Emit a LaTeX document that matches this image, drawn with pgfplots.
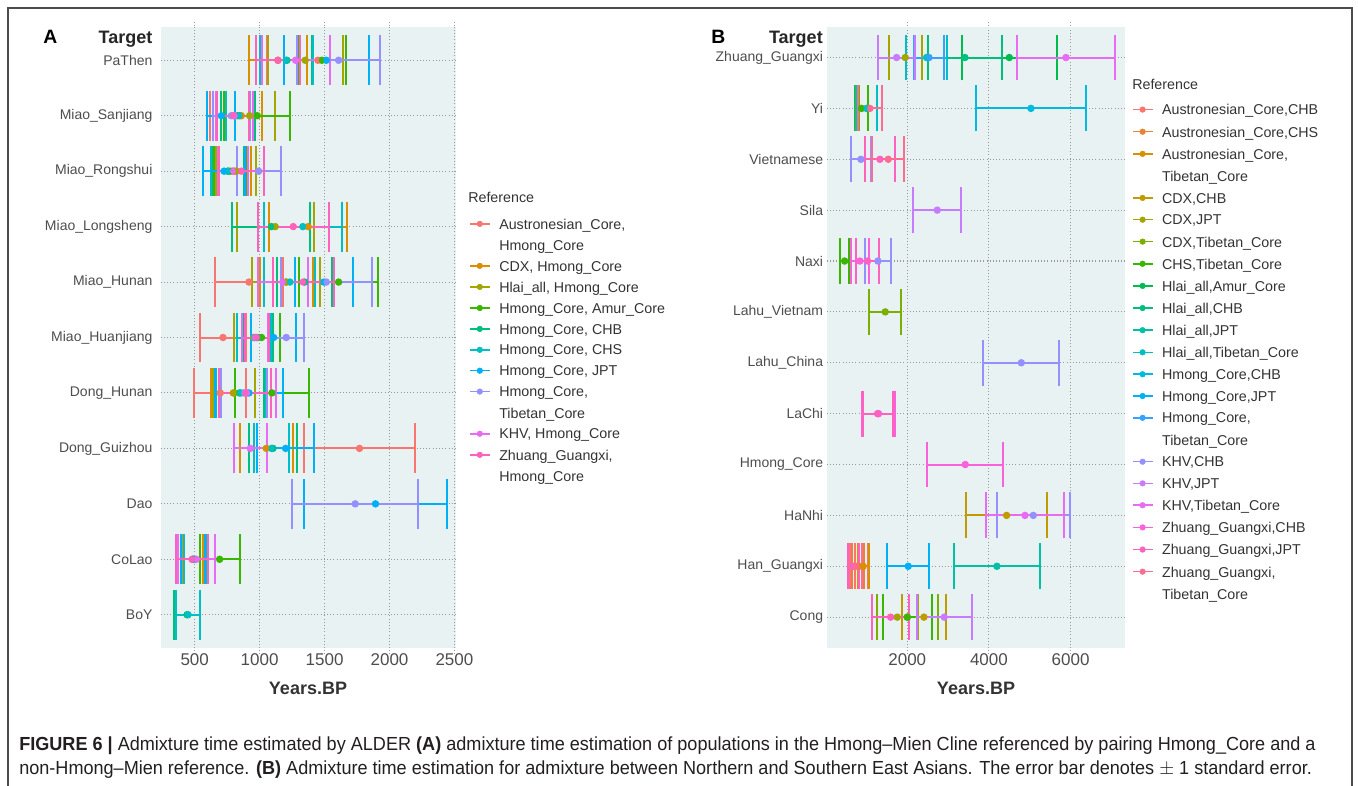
\documentclass[border=0pt]{standalone}
\usepackage{fontspec}
\setmainfont{Liberation Sans}
\newfontfamily\capfont[FakeStretch=0.955]{Liberation Sans}
\usepackage{pgfplots}
\pgfplotsset{compat=1.18}
\usepackage{pgfplotstable}

\definecolor{bg}{HTML}{E9F2F3}
\definecolor{tickc}{HTML}{4D4D4D}
\definecolor{lgc}{HTML}{333333}
\definecolor{capc}{HTML}{231F20}
% panel A palette
\definecolor{ca1}{HTML}{F8766D}\definecolor{ca2}{HTML}{D89000}
\definecolor{ca3}{HTML}{A3A500}\definecolor{ca4}{HTML}{39B600}
\definecolor{ca5}{HTML}{00BF7D}\definecolor{ca6}{HTML}{00BFC4}
\definecolor{ca7}{HTML}{00B0F6}\definecolor{ca8}{HTML}{9590FF}
\definecolor{ca9}{HTML}{E76BF3}\definecolor{ca10}{HTML}{FF62BC}
% panel B palette
\definecolor{cb1}{HTML}{F8766D}\definecolor{cb2}{HTML}{EA8331}
\definecolor{cb3}{HTML}{D89000}\definecolor{cb4}{HTML}{C09B00}
\definecolor{cb5}{HTML}{A3A500}\definecolor{cb6}{HTML}{7CAE00}
\definecolor{cb7}{HTML}{39B600}\definecolor{cb8}{HTML}{00BB4E}
\definecolor{cb9}{HTML}{00BF7D}\definecolor{cb10}{HTML}{00C1A3}
\definecolor{cb11}{HTML}{00BFC4}\definecolor{cb12}{HTML}{00BAE0}
\definecolor{cb13}{HTML}{00B0F6}\definecolor{cb14}{HTML}{35A2FF}
\definecolor{cb15}{HTML}{9590FF}\definecolor{cb16}{HTML}{C77CFF}
\definecolor{cb17}{HTML}{E76BF3}\definecolor{cb18}{HTML}{FA62DB}
\definecolor{cb19}{HTML}{FF62BC}\definecolor{cb20}{HTML}{FF6C91}

% ---------------- Panel A data (y: 11 PaThen ... 1 BoY) ----------------
\pgfplotstableread{
x y e
1449 11 392
815 10 200
808 9 128
918 7 264
718 6 175
697 5 199
1769 4 431
487 2 95
}\tAa
\pgfplotstableread{
x y e
1141 11 223
859 10 160
795 9 141
1374 8 299
1205 7 205
974 6 110
797 5 169
1051 4 205
485 2 80
}\tAb
\pgfplotstableread{
x y e
1351 11 290
923 10 192
821 9 154
1120 8 295
1203 7 259
954 6 150
803 5 163
}\tAc
\pgfplotstableread{
x y e
1479 11 187
982 10 254
774 9 123
1608 7 303
1015 6 144
1095 5 282
692 2 154
}\tAd
\pgfplotstableread{
x y e
1210 11 192
833 10 128
756 9 123
1090 8 300
1346 7 213
987 6 115
844 5 190
1103 4 182
441 1 103
}\tAe
\pgfplotstableread{
x y e
1205 11 205
846 10 103
756 9 133
1333 8 301
1233 7 197
959 6 131
856 5 190
1092 4 132
500 2 85
449 1 90
}\tAf
\pgfplotstableread{
x y e
1513 11 328
705 10 108
726 9 159
1495 7 223
1108 6 172
918 5 262
1200 4 218
1892 3 551
487 2 95
}\tAg
\pgfplotstableread{
x y e
1608 11 320
782 10 141
992 9 169
1513 7 351
1205 6 133
879 5 177
1736 3 487
}\tAh
\pgfplotstableread{
x y e
1277 11 262
808 10 141
795 9 115
1179 7 192
962 6 100
905 5 218
928 4 127
513 2 141
}\tAi
\pgfplotstableread{
x y e
1141 11 172
795 10 123
859 9 172
1259 8 273
1336 7 233
979 6 95
890 5 200
480 2 125
}\tAj

% ---------------- Panel B data (y: 12 Zhuang_Guangxi ... 1 Cong) ----------------
\pgfplotstableread{
x y e
882 2 163
}\tBa
\pgfplotstableread{
x y e
800 2 150
}\tBb
\pgfplotstableread{
x y e
922 2 140
}\tBc
\pgfplotstableread{
x y e
4433 3 988
2408 1 543
}\tBd
\pgfplotstableread{
x y e
1951 12 404
1755 1 506
}\tBe
\pgfplotstableread{
x y e
1029 11 220
1461 7 388
2004 1 755
}\tBf
\pgfplotstableread{
x y e
882 11 163
467 8 102
2000 1 600
}\tBg
\pgfplotstableread{
x y e
4498 12 1159
}\tBh
\pgfplotstableread{
x y e
3412 12 898
}\tBi
\pgfplotstableread{
x y e
4196 2 1053
}\tBj
\pgfplotstableread{
x y e
2473 12 510
1000 11 250
}\tBk
\pgfplotstableread{
x y e
5028 11 1355
}\tBl
\pgfplotstableread{
x y e
2024 2 514
}\tBm
\pgfplotstableread{
x y e
2531 12 371
}\tBn
\pgfplotstableread{
x y e
865 10 245
1282 8 318
4792 6 935
5086 3 890
}\tBo
\pgfplotstableread{
x y e
1739 12 449
2735 9 592
2906 1 673
}\tBp
\pgfplotstableread{
x y e
5886 12 1200
4882 3 947
}\tBq
\pgfplotstableread{
x y e
841 8 229
1298 5 400
3420 4 927
}\tBr
\pgfplotstableread{
x y e
1331 10 376
1029 8 278
1273 5 367
678 2 135
1592 1 457
}\tBs
\pgfplotstableread{
x y e
1086 11 290
1535 10 388
743 2 155
}\tBt

\newcommand{\ph}{\vphantom{Hg\_,}}
\newcommand{\ebar}[3]{\addplot[forget plot, only marks, mark=none, color=#2, line width=1.5pt,
  error bars/.cd, x dir=both, x explicit, error mark=|,
  error bar style={line width=1.5pt, color=#2, solid},
  error mark options={mark size=#3, line width=1.5pt, color=#2, solid}]
  table[x=x,y=y,x error=e]{#1};}
\newcommand{\epts}[4]{\addplot[only marks, mark=*, color=#2, mark size=#3,
  mark options={fill=#2, draw=#2, line width=0.2pt}, lglyph]
  table[x=x,y=y]{#1};\addlegendentry{\ph#4}}
\newcommand{\more}[1]{\addlegendimage{empty legend}\addlegendentry{\ph#1}}

\pgfplotsset{
  lglyph/.style={legend image code/.code={%
      \draw[line width=1.2pt] (0pt,0.9pt) -- (15pt,0.9pt);
      \fill (7.5pt,0.9pt) circle (2.1pt);}},
  panel/.style={
    scale only axis,
    axis background/.style={fill=bg},
    axis line style={draw=none},
    xmajorgrids, ymajorgrids,
    grid style={gray!80, dotted, line width=0.8pt},
    major tick style={gray!80, dotted, line width=0.8pt},
    tick align=outside, major tick length=4pt,
    ytick style={draw=none},
    tick label style={inner sep=0pt},
    xticklabel style={font=\fontsize{12.75}{14}\selectfont, text=tickc},
    yticklabel style={font=\fontsize{10.5}{12}\selectfont, text=tickc},
    /pgf/number format/assume math mode=true,
    /pgf/number format/set thousands separator={},
    legend cell align=left,
    legend style={draw=none, fill=none, inner sep=0pt, outer sep=0pt,
      anchor=north west, column sep=6.5pt,
      font=\fontsize{10.7}{12.5}\selectfont,
      nodes={inner sep=0pt, text=lgc}},
  }
}

\begin{document}
\begin{tikzpicture}
\useasboundingbox (0,0) rectangle (1018.5pt,-588.75pt);
\draw[black!70, line width=0.9pt] (6pt,-600pt) -- (6pt,-6pt) -- (1014pt,-6pt) -- (1014pt,-600pt);

% ================= Panel A =================
\begin{axis}[panel,
  at={(120.5pt,-20.25pt)}, anchor=north west,
  width=221.5pt, height=465.75pt,
  xmin=238, xmax=2512, ymin=0.4, ymax=11.6,
  xtick={500,1000,1500,2000,2500},
  ytick={1,...,11},
  yticklabels={BoY,CoLao,Dao,Dong\_Guizhou,Dong\_Hunan,Miao\_Huanjiang,Miao\_Hunan,Miao\_Longsheng,Miao\_Rongshui,Miao\_Sanjiang,PaThen},
  yticklabel style={xshift=-2pt},
  legend style={at={(axis description cs:1.0440,0.691)}, row sep=6.7pt},
]
\ebar{\tAa}{ca1}{18.7pt}\ebar{\tAb}{ca2}{18.7pt}\ebar{\tAc}{ca3}{18.7pt}
\ebar{\tAd}{ca4}{18.7pt}\ebar{\tAe}{ca5}{18.7pt}\ebar{\tAf}{ca6}{18.7pt}
\ebar{\tAg}{ca7}{18.7pt}\ebar{\tAh}{ca8}{18.7pt}\ebar{\tAi}{ca9}{18.7pt}
\ebar{\tAj}{ca10}{18.7pt}
\epts{\tAa}{ca1}{2.1pt}{Austronesian\_Core,}\more{Hmong\_Core}
\epts{\tAb}{ca2}{2.1pt}{CDX, Hmong\_Core}
\epts{\tAc}{ca3}{2.1pt}{Hlai\_all, Hmong\_Core}
\epts{\tAd}{ca4}{2.1pt}{Hmong\_Core, Amur\_Core}
\epts{\tAe}{ca5}{2.1pt}{Hmong\_Core, CHB}
\epts{\tAf}{ca6}{2.1pt}{Hmong\_Core, CHS}
\epts{\tAg}{ca7}{2.1pt}{Hmong\_Core, JPT}
\epts{\tAh}{ca8}{2.1pt}{Hmong\_Core,}\more{Tibetan\_Core}
\epts{\tAi}{ca9}{2.1pt}{KHV, Hmong\_Core}
\epts{\tAj}{ca10}{2.1pt}{Zhuang\_Guangxi,}\more{Hmong\_Core}
\end{axis}

% ================= Panel B =================
\begin{axis}[panel,
  at={(620pt,-20.25pt)}, anchor=north west,
  width=223.7pt, height=465.5pt,
  xmin=27, xmax=7330, ymin=0.4, ymax=12.6,
  xtick={2000,4000,6000},
  ytick={1,...,12},
  yticklabels={Cong,Han\_Guangxi,HaNhi,Hmong\_Core,LaChi,Lahu\_China,Lahu\_Vietnam,Naxi,Sila,Vietnamese,Yi,Zhuang\_Guangxi},
  yticklabel style={xshift=1.5pt},
  legend style={at={(axis description cs:1.0230,0.875)}, row sep=7.35pt},
]
\ebar{\tBa}{cb1}{17.2pt}\ebar{\tBb}{cb2}{17.2pt}\ebar{\tBc}{cb3}{17.2pt}
\ebar{\tBd}{cb4}{17.2pt}\ebar{\tBe}{cb5}{17.2pt}\ebar{\tBf}{cb6}{17.2pt}
\ebar{\tBg}{cb7}{17.2pt}\ebar{\tBh}{cb8}{17.2pt}\ebar{\tBi}{cb9}{17.2pt}
\ebar{\tBj}{cb10}{17.2pt}\ebar{\tBk}{cb11}{17.2pt}\ebar{\tBl}{cb12}{17.2pt}
\ebar{\tBm}{cb13}{17.2pt}\ebar{\tBn}{cb14}{17.2pt}\ebar{\tBo}{cb15}{17.2pt}
\ebar{\tBp}{cb16}{17.2pt}\ebar{\tBq}{cb17}{17.2pt}\ebar{\tBr}{cb18}{17.2pt}
\ebar{\tBs}{cb19}{17.2pt}\ebar{\tBt}{cb20}{17.2pt}
\epts{\tBa}{cb1}{2.0pt}{Austronesian\_Core,CHB}
\epts{\tBb}{cb2}{2.0pt}{Austronesian\_Core,CHS}
\epts{\tBc}{cb3}{2.0pt}{Austronesian\_Core,}\more{Tibetan\_Core}
\epts{\tBd}{cb4}{2.0pt}{CDX,CHB}
\epts{\tBe}{cb5}{2.0pt}{CDX,JPT}
\epts{\tBf}{cb6}{2.0pt}{CDX,Tibetan\_Core}
\epts{\tBg}{cb7}{2.0pt}{CHS,Tibetan\_Core}
\epts{\tBh}{cb8}{2.0pt}{Hlai\_all,Amur\_Core}
\epts{\tBi}{cb9}{2.0pt}{Hlai\_all,CHB}
\epts{\tBj}{cb10}{2.0pt}{Hlai\_all,JPT}
\epts{\tBk}{cb11}{2.0pt}{Hlai\_all,Tibetan\_Core}
\epts{\tBl}{cb12}{2.0pt}{Hmong\_Core,CHB}
\epts{\tBm}{cb13}{2.0pt}{Hmong\_Core,JPT}
\epts{\tBn}{cb14}{2.0pt}{Hmong\_Core,}\more{Tibetan\_Core}
\epts{\tBo}{cb15}{2.0pt}{KHV,CHB}
\epts{\tBp}{cb16}{2.0pt}{KHV,JPT}
\epts{\tBq}{cb17}{2.0pt}{KHV,Tibetan\_Core}
\epts{\tBr}{cb18}{2.0pt}{Zhuang\_Guangxi,CHB}
\epts{\tBs}{cb19}{2.0pt}{Zhuang\_Guangxi,JPT}
\epts{\tBt}{cb20}{2.0pt}{Zhuang\_Guangxi,}\more{Tibetan\_Core}
\end{axis}

% ================= Titles and labels =================
\node[anchor=base west, inner sep=0pt, font=\fontsize{14.5}{16}\selectfont\bfseries] at (32.25pt,-32.25pt) {A};
\node[anchor=base east, inner sep=0pt, text=black!85, font=\fontsize{13.5}{15}\selectfont\bfseries] at (114.5pt,-32.25pt) {Target};
\node[anchor=base west, inner sep=0pt, font=\fontsize{14.5}{16}\selectfont\bfseries] at (533.25pt,-32.25pt) {B};
\node[anchor=base east, inner sep=0pt, text=black!85, font=\fontsize{13.5}{15}\selectfont\bfseries] at (617.25pt,-32.25pt) {Target};
\node[anchor=base, inner sep=0pt, text=black!80, font=\fontsize{13.5}{15}\selectfont\bfseries] at (231pt,-520.5pt) {Years.BP};
\node[anchor=base, inner sep=0pt, text=black!80, font=\fontsize{13.5}{15}\selectfont\bfseries] at (732pt,-520.5pt) {Years.BP};
\node[anchor=base west, inner sep=0pt, text=lgc, font=\fontsize{10.7}{12.5}\selectfont] at (351pt,-151.5pt) {Reference};
\node[anchor=base west, inner sep=0pt, text=lgc, font=\fontsize{10.7}{12.5}\selectfont] at (849pt,-66.75pt) {Reference};

% ================= Caption =================
\node[anchor=base west, inner sep=0pt, text=capc, font=\capfont\fontsize{14.2}{16}\selectfont] at (14.25pt,-562.5pt)
 {\textbf{FIGURE 6 |} Admixture time estimated by ALDER \textbf{(A)} admixture time estimation of populations in the Hmong–Mien Cline referenced by pairing Hmong\_Core and a};
\node[anchor=base west, inner sep=0pt, text=capc, font=\capfont\fontsize{14.2}{16}\selectfont] at (14.25pt,-580.5pt)
 {non-Hmong–Mien reference. \textbf{(B)} Admixture time estimation for admixture between Northern and Southern East Asians. The error bar denotes $\pm$ 1 standard error.};
\end{tikzpicture}
\end{document}
